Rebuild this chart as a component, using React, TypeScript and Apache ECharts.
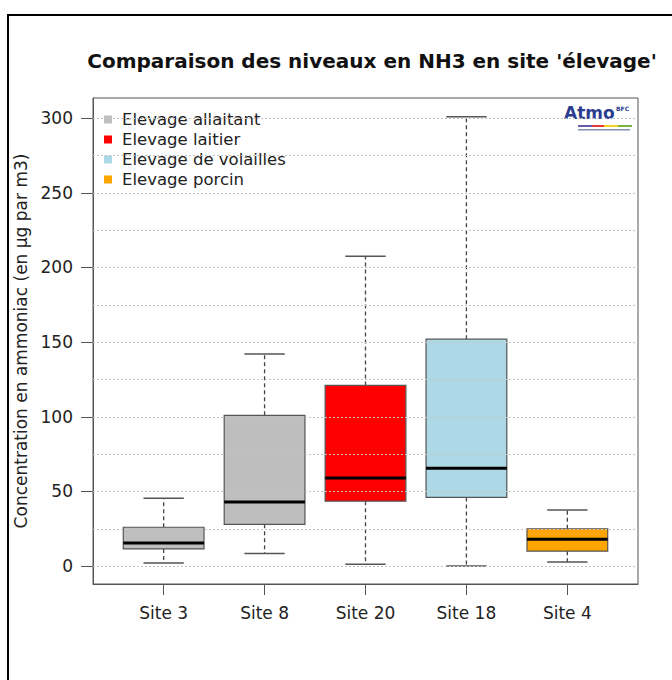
import React, { useEffect, useRef } from 'react';
import * as echarts from 'echarts';

const sites = ['Site 3', 'Site 8', 'Site 20', 'Site 18', 'Site 4'];
const siteGroup = ['Elevage allaitant', 'Elevage allaitant', 'Elevage laitier', 'Elevage de volailles', 'Elevage porcin'];
const groups = ['Elevage allaitant', 'Elevage laitier', 'Elevage de volailles', 'Elevage porcin'];
const groupColors = ['#BEBEBE', '#FF0000', '#ADD8E6', '#FFA500'];
const whiskerLow = [2, 8.5, 1.3, 0, 2.7];
const quartile1 = [11.5, 28, 43.5, 46, 10];
const medians = [15.5, 43, 59, 65.5, 18];
const quartile3 = [26, 101, 121, 152, 25];
const whiskerHigh = [45.5, 142, 207.5, 301, 37.5];
const yTickLabels = [0, 50, 100, 150, 200, 250, 300];
const yGridValues = [0, 25, 50, 75, 100, 125, 150, 175, 200, 225, 250, 275, 300];
const xTickValues = [0, 1, 2, 3, 4];

const FONT = 'DejaVu Sans';
const TEXT = '#222';

const renderItem = (params: any, api: any) => {
  const xi = api.value(0);
  const pLow = api.coord([xi, api.value(1)]);
  const pQ1 = api.coord([xi, api.value(2)]);
  const pMed = api.coord([xi, api.value(3)]);
  const pQ3 = api.coord([xi, api.value(4)]);
  const pHigh = api.coord([xi, api.value(5)]);
  const unit = api.size([1, 0])[0];
  const cx = pMed[0];
  const hb = unit * 0.4;
  const hc = unit * 0.2;
  const fill = api.visual('color');
  const dash = { stroke: '#444', lineWidth: 1.3, lineDash: [4, 3] };
  const cap = { stroke: '#555', lineWidth: 1.5 };
  return {
    type: 'group',
    children: [
      { type: 'line', shape: { x1: cx, y1: pQ3[1], x2: cx, y2: pHigh[1] }, style: dash },
      { type: 'line', shape: { x1: cx, y1: pQ1[1], x2: cx, y2: pLow[1] }, style: dash },
      { type: 'line', shape: { x1: cx - hc, y1: pHigh[1], x2: cx + hc, y2: pHigh[1] }, style: cap },
      { type: 'line', shape: { x1: cx - hc, y1: pLow[1], x2: cx + hc, y2: pLow[1] }, style: cap },
      {
        type: 'rect',
        shape: { x: cx - hb, y: pQ3[1], width: 2 * hb, height: pQ1[1] - pQ3[1] },
        style: { fill, stroke: '#555', lineWidth: 1.2 },
      },
      { type: 'line', shape: { x1: cx - hb, y1: pMed[1], x2: cx + hb, y2: pMed[1] }, style: { stroke: '#000', lineWidth: 3 } },
    ],
  };
};

export default function App() {
  const ref = useRef<HTMLDivElement>(null);
  useEffect(() => {
    if (!ref.current) return;
    const chart = echarts.init(ref.current, undefined, { renderer: 'svg' });
    const series: any[] = groups.map((g, gi) => ({
      type: 'custom',
      name: g,
      renderItem,
      z: 2,
      itemStyle: { color: groupColors[gi] },
      encode: { x: 0, y: [1, 2, 3, 4, 5] },
      data: sites
        .map((s, i) => i)
        .filter((i) => siteGroup[i] === g)
        .map((i) => [i, whiskerLow[i], quartile1[i], medians[i], quartile3[i], whiskerHigh[i]]),
      ...(gi === 0
        ? {
            markLine: {
              silent: true,
              animation: false,
              symbol: ['none', 'none'],
              label: { show: false },
              lineStyle: { color: '#c4c4c4', type: [2, 2], width: 1 },
              emphasis: { disabled: true },
              data: yGridValues.map((v) => ({ yAxis: v })),
            },
          }
        : {}),
    }));
    chart.setOption({
      animation: false,
      backgroundColor: '#fff',
      title: {
        text: "Comparaison des niveaux en NH3 en site 'élevage'",
        left: 367,
        top: 46,
        textAlign: 'center',
        textStyle: { fontFamily: FONT, fontSize: 20, fontWeight: 'bold', color: '#111' },
      },
      legend: {
        data: groups,
        orient: 'vertical',
        left: 99,
        top: 106,
        itemWidth: 18,
        itemHeight: 8,
        itemGap: 3,
        icon: 'path://M0,0L1,0L1,1L0,1Z',
        textStyle: { fontFamily: FONT, fontSize: 16.5, color: TEXT, lineHeight: 17 },
        selectedMode: false,
      },
      grid: {
        left: 93,
        right: 34,
        top: 98,
        bottom: 96,
        show: true,
        borderColor: '#555',
        borderWidth: 1,
        backgroundColor: 'transparent',
      },
      xAxis: {
        type: 'value',
        min: -0.7,
        max: 4.7,
        axisLine: { show: true, onZero: false, lineStyle: { color: '#555' } },
        axisTick: { show: true, length: 11, customValues: xTickValues, lineStyle: { color: '#555' } },
        axisLabel: {
          customValues: xTickValues,
          formatter: (v: number) => sites[Math.round(v)],
          fontFamily: FONT,
          fontSize: 17,
          color: TEXT,
          margin: 20,
        },
        splitLine: { show: false },
      },
      yAxis: {
        type: 'value',
        min: -12,
        max: 313.5,
        name: 'Concentration en ammoniac (en µg par m3)',
        nameLocation: 'middle',
        nameGap: 61,
        nameTextStyle: { fontFamily: FONT, fontSize: 17, color: TEXT },
        axisLine: { show: true, onZero: false, lineStyle: { color: '#555' } },
        axisTick: { show: true, length: 12, customValues: yTickLabels, lineStyle: { color: '#555' } },
        axisLabel: {
          customValues: yTickLabels,
          fontFamily: FONT,
          fontSize: 17,
          color: TEXT,
          margin: 20,
        },
        splitLine: { show: false },
      },
      graphic: [
        {
          type: 'rect',
          shape: { x: 8, y: 15, width: 720, height: 720 },
          style: { fill: 'none', stroke: '#000', lineWidth: 2 },
          silent: true,
        },
        {
          type: 'group',
          left: 564,
          top: 104,
          children: [
            { type: 'text', x: 0, y: 0, style: { text: 'Atmo', font: 'bold 17px ' + FONT, fill: '#2b3d8f' } },
            { type: 'text', x: 52, y: 1, style: { text: 'BFC', font: 'bold 6px ' + FONT, fill: '#2b3d8f' } },
            { type: 'rect', shape: { x: 14, y: 21, width: 14, height: 2 }, style: { fill: '#6a5aa8' } },
            { type: 'rect', shape: { x: 28, y: 21, width: 12, height: 2 }, style: { fill: '#e53935' } },
            { type: 'rect', shape: { x: 40, y: 21, width: 14, height: 2 }, style: { fill: '#f2d024' } },
            { type: 'rect', shape: { x: 54, y: 21, width: 14, height: 2 }, style: { fill: '#7cb342' } },
            { type: 'rect', shape: { x: 14, y: 25, width: 52, height: 1.5 }, style: { fill: '#8a8fb5' } },
          ],
        },
      ],
      series,
    });
    return () => chart.dispose();
  }, []);
  return <div ref={ref} style={{ position: 'fixed', left: 0, top: 0, width: 672, height: 680 }} />;
}
